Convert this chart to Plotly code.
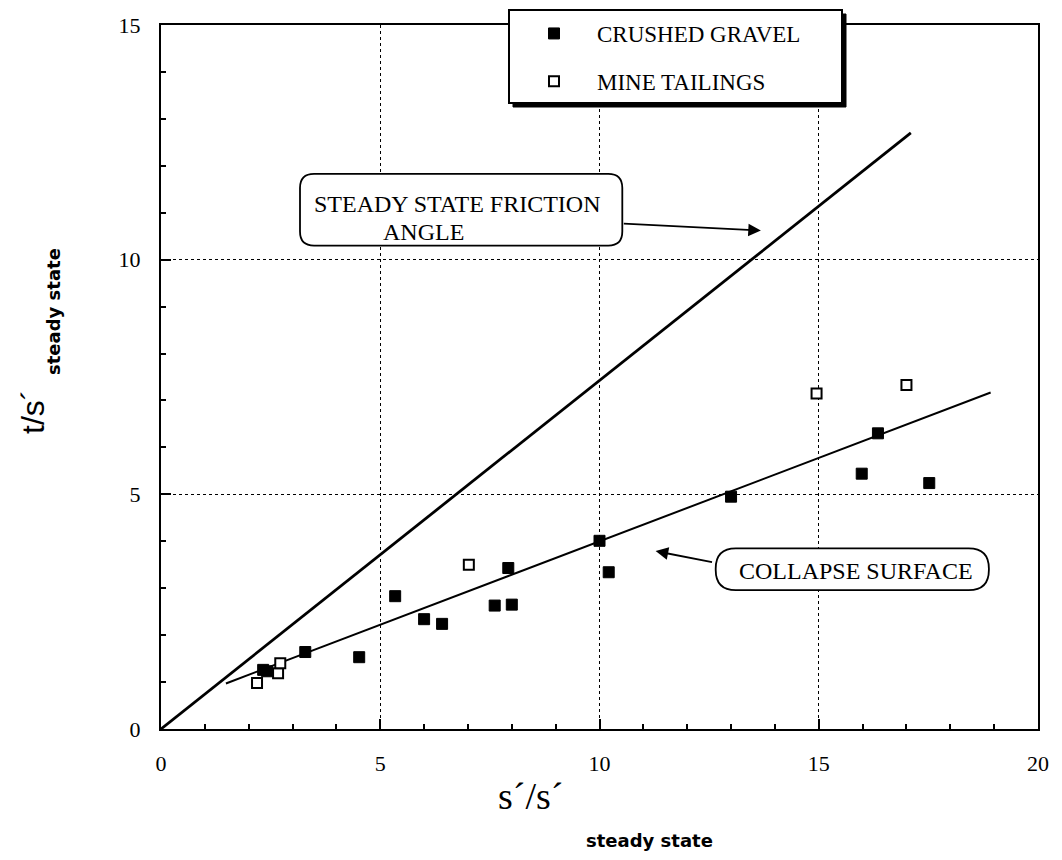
import plotly.graph_objects as go

# ---- data ----
gravel_x = [2.33, 2.42, 3.29, 4.52, 5.34, 6.00, 6.41, 7.61, 8.00, 7.92, 10.00, 10.21, 13.00, 15.98, 16.35, 17.52]
gravel_y = [1.26, 1.23, 1.64, 1.53, 2.83, 2.34, 2.24, 2.63, 2.65, 3.43, 4.01, 3.34, 4.95, 5.44, 6.30, 5.24]
tailings_x = [2.19, 2.67, 2.72, 7.02, 14.95, 17.00]
tailings_y = [0.98, 1.19, 1.40, 3.50, 7.15, 7.33]
friction_x = [0.0, 17.1]
friction_y = [0.0, 12.7]
collapse_x = [1.48, 18.92]
collapse_y = [0.97, 7.17]
tick_vals_x = [0, 5, 10, 15, 20]
tick_vals_y = [0, 5, 10, 15]

# ---- layout geometry (pixels) ----
W, H = 1062, 860
L, R, T, B = 161, 1038, 25, 729


def px(xp):
    return (xp - L) / (R - L)


def py(yp):
    return (B - yp) / (B - T)


SERIF = "Liberation Serif"

fig = go.Figure()
fig.add_trace(go.Scatter(x=friction_x, y=friction_y, mode="lines",
                         line=dict(color="black", width=2.8), showlegend=False, hoverinfo="skip"))
fig.add_trace(go.Scatter(x=collapse_x, y=collapse_y, mode="lines",
                         line=dict(color="black", width=2), showlegend=False, hoverinfo="skip"))
fig.add_trace(go.Scatter(x=gravel_x, y=gravel_y, mode="markers", name="CRUSHED GRAVEL",
                         legendgroup="g1",
                         marker=dict(symbol="square", size=11, color="black",
                                     line=dict(color="black", width=1))))
fig.add_trace(go.Scatter(x=tailings_x, y=tailings_y, mode="markers", name="MINE TAILINGS",
                         legendgroup="g2",
                         marker=dict(symbol="square", size=10, color="white",
                                     line=dict(color="black", width=2))))


def rounded_rect(x0, y0, x1, y1, rx, ry):
    return (f"M {x0+rx},{y1} L {x1-rx},{y1} Q {x1},{y1} {x1},{y1-ry} "
            f"L {x1},{y0+ry} Q {x1},{y0} {x1-rx},{y0} L {x0+rx},{y0} "
            f"Q {x0},{y0} {x0},{y0+ry} L {x0},{y1-ry} Q {x0},{y1} {x0+rx},{y1} Z")


shapes = [
    # legend shadow + box
    dict(type="rect", xref="paper", yref="paper", x0=px(513), x1=px(846), y0=py(107), y1=py(14),
         fillcolor="black", line=dict(color="black", width=1), layer="above"),
    dict(type="rect", xref="paper", yref="paper", x0=px(509), x1=px(842), y0=py(103), y1=py(10),
         fillcolor="white", line=dict(color="black", width=2), layer="above"),
    # rounded annotation boxes
    dict(type="path", xref="x", yref="y", path=rounded_rect(3.17, 10.30, 10.52, 11.83, 0.32, 0.30),
         fillcolor="white", line=dict(color="black", width=1.8), layer="above"),
    dict(type="path", xref="x", yref="y", path=rounded_rect(12.65, 2.96, 18.88, 3.85, 0.46, 0.43),
         fillcolor="white", line=dict(color="black", width=1.8), layer="above"),
]

annotations = [
    dict(x=6.77, y=11.19, xref="x", yref="y", text="STEADY STATE FRICTION", showarrow=False,
         font=dict(family=SERIF, size=24, color="black"), xanchor="center", yanchor="middle"),
    dict(x=5.98, y=10.60, xref="x", yref="y", text="ANGLE", showarrow=False,
         font=dict(family=SERIF, size=24, color="black"), xanchor="center", yanchor="middle"),
    dict(x=15.84, y=3.36, xref="x", yref="y", text="COLLAPSE SURFACE", showarrow=False,
         font=dict(family=SERIF, size=24, color="black"), xanchor="center", yanchor="middle"),
    # arrows
    dict(x=13.68, y=10.62, ax=10.52, ay=10.77, xref="x", yref="y", axref="x", ayref="y",
         text="", showarrow=True, arrowhead=2, arrowsize=1.4, arrowwidth=1.8, arrowcolor="black"),
    dict(x=11.28, y=3.79, ax=12.60, ay=3.55, xref="x", yref="y", axref="x", ayref="y",
         text="", showarrow=True, arrowhead=2, arrowsize=1.4, arrowwidth=1.8, arrowcolor="black"),
    # axis titles
    dict(x=px(530), y=py(796), xref="paper", yref="paper", text="s\u00b4/s\u00b4", showarrow=False,
         font=dict(family=SERIF, size=38, color="black"), xanchor="center", yanchor="middle"),
    dict(x=px(649), y=py(840), xref="paper", yref="paper", text="<b>steady state</b>", showarrow=False,
         font=dict(family="DejaVu Sans", size=18, color="black"), xanchor="center", yanchor="middle"),
    dict(x=px(33), y=py(412), xref="paper", yref="paper", text="t/s\u00b4", showarrow=False,
         textangle=-90, font=dict(family="Liberation Sans", size=32, color="black"),
         xanchor="center", yanchor="middle"),
    dict(x=px(53), y=py(312), xref="paper", yref="paper", text="<b>steady state</b>", showarrow=False,
         textangle=-90, font=dict(family="DejaVu Sans", size=18, color="black"),
         xanchor="center", yanchor="middle"),
]

axis_common = dict(
    showline=True, linecolor="black", linewidth=2, mirror=True,
    showgrid=True, gridcolor="black", gridwidth=1.2, griddash="dot",
    zeroline=False, ticks="inside", ticklen=10, tickwidth=2, tickcolor="black",
    tickfont=dict(family=SERIF, size=22, color="black"),
    minor=dict(ticks="inside", ticklen=5, tickwidth=1.5, tickcolor="black", dtick=1, showgrid=False),
)

fig.update_layout(
    width=W, height=H,
    margin=dict(l=L, r=W - R, t=T, b=H - B, autoexpand=False),
    paper_bgcolor="white", plot_bgcolor="white",
    shapes=shapes, annotations=annotations,
    xaxis=dict(range=[0, 20], tickvals=tick_vals_x, ticklabelstandoff=14, **axis_common),
    yaxis=dict(range=[0, 15], tickvals=tick_vals_y, ticklabelstandoff=14, **axis_common),
    legend=dict(x=px(511), y=py(12), xanchor="left", yanchor="top",
                bgcolor="rgba(0,0,0,0)", borderwidth=0,
                font=dict(family=SERIF, size=23, color="black"),
                itemwidth=76, tracegroupgap=15),
    showlegend=True,
)

fig.write_html("out.html", config={"displayModeBar": False},
               post_script="document.body.style.margin='0';document.body.style.overflow='hidden';")
